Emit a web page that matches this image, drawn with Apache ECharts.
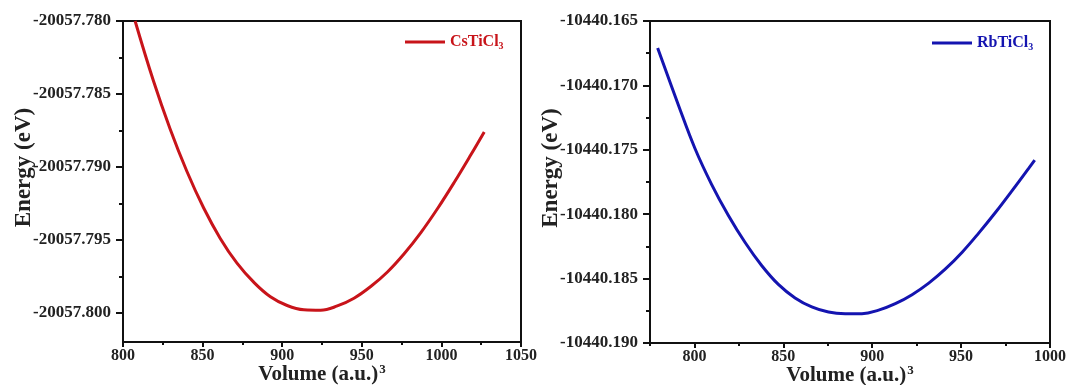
<!DOCTYPE html>
<html>
<head>
<meta charset="utf-8">
<script src="https://cdn.jsdelivr.net/npm/echarts@6/dist/echarts.min.js"></script>
<style>html,body{margin:0;padding:0;background:#fff;}#c{width:1066px;height:385px;}</style>
</head>
<body>
<div id="c"></div>
<script>
// ---- Data ----
const csVolume = [807.6, 819.1, 829.6, 840.1, 850.6, 861.1, 871.6, 882.1, 892.6, 903.1, 913.6, 924.1, 934.6, 945.1, 955.6, 966.1, 976.6, 987.1, 997.6, 1008.1, 1018.6, 1026.9];
const csEnergy = [-20057.7800, -20057.7841, -20057.7874, -20057.7903, -20057.7928, -20057.7949, -20057.7966, -20057.7979, -20057.7989, -20057.79950, -20057.79979, -20057.79982, -20057.79953, -20057.7990, -20057.7982, -20057.7972, -20057.79595, -20057.7945, -20057.79285, -20057.79105, -20057.78915, -20057.7876];
const rbVolume = [779.3, 790.9, 800.3, 809.7, 819.1, 828.5, 837.9, 847.2, 856.6, 866.0, 875.4, 884.8, 894.2, 903.6, 913.0, 922.4, 931.8, 941.2, 950.6, 960.0, 969.4, 978.8, 988.2, 991.4];
const rbEnergy = [-10440.1671, -10440.1715, -10440.1749, -10440.1777, -10440.1801, -10440.1822, -10440.1840, -10440.18545, -10440.1865, -10440.1872, -10440.1876, -10440.18772, -10440.18772, -10440.18745, -10440.18695, -10440.18625, -10440.18535, -10440.18425, -10440.18295, -10440.18145, -10440.17985, -10440.17815, -10440.1764, -10440.1758];

const csXTicks = [800, 850, 900, 950, 1000, 1050];
const csXMinor = [825, 875, 925, 975, 1025];
const csYTicks = [-20057.800, -20057.795, -20057.790, -20057.785, -20057.780];
const csYMinor = [-20057.7975, -20057.7925, -20057.7875, -20057.7825];
const rbXTicks = [800, 850, 900, 950, 1000];
const rbXMinor = [775, 825, 875, 925, 975];
const rbYTicks = [-10440.190, -10440.185, -10440.180, -10440.175, -10440.170, -10440.165];
const rbYMinor = [-10440.1875, -10440.1825, -10440.1775, -10440.1725, -10440.1675];

const seriesNames = ['CsTiCl3', 'RbTiCl3'];
const colors = ['#c8141a', '#1414b0'];

// ---- Styling ----
const FONT = 'Liberation Serif';
const AX = '#111';

function xMain(grid, min, max, ticks) {
  return {
    type: 'value', gridIndex: grid, min: min, max: max, position: 'bottom',
    name: '{t|Volume (a.u.)}{s|3}', nameLocation: 'middle', nameGap: 21, nameMoveOverlap: false,
    nameTextStyle: { rich: {
      t: { fontFamily: FONT, fontWeight: 'bold', fontSize: 21, color: '#222' },
      s: { fontFamily: FONT, fontWeight: 'bold', fontSize: 13, color: '#222', verticalAlign: 'top', padding: [0, 0, 10, 1] }
    } },
    axisLine: { show: true, onZero: false, lineStyle: { color: AX, width: 2 } },
    axisTick: { show: true, inside: false, length: 5, customValues: ticks, lineStyle: { color: AX, width: 2 } },
    axisLabel: { show: true, customValues: ticks, margin: 6, fontFamily: FONT, fontWeight: 'bold', fontSize: 16, color: '#222', formatter: v => String(Math.round(v)) },
    splitLine: { show: false }
  };
}
function xMinor(grid, min, max, ticks) {
  return {
    type: 'value', gridIndex: grid, min: min, max: max, position: 'bottom',
    axisLine: { show: false, onZero: false },
    axisTick: { show: true, inside: false, length: 3, customValues: ticks, lineStyle: { color: AX, width: 2 } },
    axisLabel: { show: false },
    splitLine: { show: false }
  };
}
function yMain(grid, min, max, ticks) {
  return {
    type: 'value', gridIndex: grid, min: min, max: max, position: 'left',
    name: 'Energy (eV)', nameLocation: 'middle', nameGap: 87, nameMoveOverlap: false,
    nameTextStyle: { fontFamily: FONT, fontWeight: 'bold', fontSize: 23, color: '#222', padding: [0, 0, 0, 28] },
    axisLine: { show: true, onZero: false, lineStyle: { color: AX, width: 2 } },
    axisTick: { show: true, inside: false, length: 7, customValues: ticks, lineStyle: { color: AX, width: 2 } },
    axisLabel: { show: true, customValues: ticks, margin: 12, fontFamily: FONT, fontWeight: 'bold', fontSize: 17, color: '#222', formatter: v => v.toFixed(3) },
    splitLine: { show: false }
  };
}
function yMinor(grid, min, max, ticks) {
  return {
    type: 'value', gridIndex: grid, min: min, max: max, position: 'left',
    axisLine: { show: false, onZero: false },
    axisTick: { show: true, inside: false, length: 4, customValues: ticks, lineStyle: { color: AX, width: 2 } },
    axisLabel: { show: false },
    splitLine: { show: false }
  };
}
function legendRich(color) {
  return {
    m: { fontFamily: FONT, fontWeight: 'bold', fontSize: 16, color: color },
    s: { fontFamily: FONT, fontWeight: 'bold', fontSize: 10, color: color, verticalAlign: 'bottom', padding: [9, 0, 0, 0] }
  };
}

const chart = echarts.init(document.getElementById('c'), null, { renderer: 'canvas' });
chart.setOption({
  animation: false,
  backgroundColor: '#fff',
  grid: [
    { left: 123, top: 21, width: 398, height: 321, show: true, borderColor: AX, borderWidth: 2, backgroundColor: 'transparent', containLabel: false, outerBoundsMode: 'none' },
    { left: 650, top: 21, width: 400, height: 322, show: true, borderColor: AX, borderWidth: 2, backgroundColor: 'transparent', containLabel: false, outerBoundsMode: 'none' }
  ],
  legend: [
    { data: [seriesNames[0]], left: 405, top: 34, padding: 0, icon: 'rect', itemWidth: 40, itemHeight: 3, itemGap: 4,
      formatter: n => '{m|' + n.slice(0, -1) + '}{s|' + n.slice(-1) + '}',
      textStyle: { rich: legendRich(colors[0]) } },
    { data: [seriesNames[1]], left: 932, top: 35, padding: 0, icon: 'rect', itemWidth: 40, itemHeight: 3, itemGap: 4,
      formatter: n => '{m|' + n.slice(0, -1) + '}{s|' + n.slice(-1) + '}',
      textStyle: { rich: legendRich(colors[1]) } }
  ],
  xAxis: [
    xMain(0, 800, 1050, csXTicks),
    xMinor(0, 800, 1050, csXMinor),
    xMain(1, 775, 1000, rbXTicks),
    xMinor(1, 775, 1000, rbXMinor)
  ],
  yAxis: [
    yMain(0, -20057.802, -20057.780, csYTicks),
    yMinor(0, -20057.802, -20057.780, csYMinor),
    yMain(1, -10440.190, -10440.165, rbYTicks),
    yMinor(1, -10440.190, -10440.165, rbYMinor)
  ],
  series: [
    { name: seriesNames[0], type: 'line', xAxisIndex: 0, yAxisIndex: 0, smooth: 0.4, showSymbol: false,
      lineStyle: { color: colors[0], width: 3 }, itemStyle: { color: colors[0] },
      data: csVolume.map((v, i) => [v, csEnergy[i]]) },
    { name: seriesNames[1], type: 'line', xAxisIndex: 2, yAxisIndex: 2, smooth: 0.4, showSymbol: false,
      lineStyle: { color: colors[1], width: 3 }, itemStyle: { color: colors[1] },
      data: rbVolume.map((v, i) => [v, rbEnergy[i]]) }
  ]
});
</script>
</body>
</html>
